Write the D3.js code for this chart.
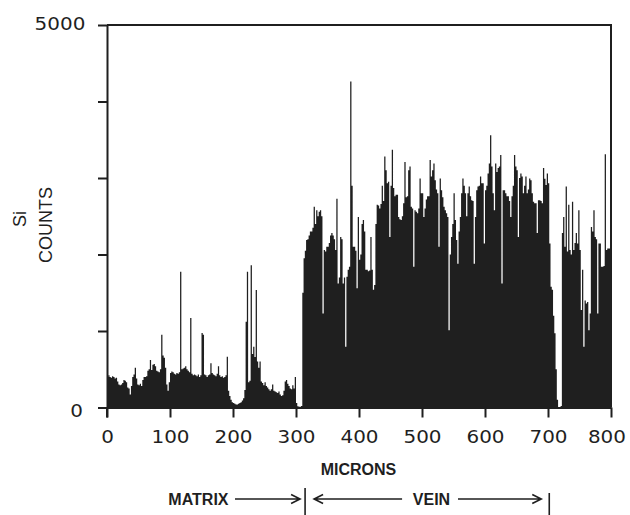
<!DOCTYPE html>
<html><head><meta charset="utf-8">
<script src="https://cdn.jsdelivr.net/npm/d3@7"></script>
<style>body{margin:0;background:#fff}</style>
</head><body>
<svg id="c" width="630" height="515"></svg>
<script>
// Si counts along the scan, one value per 2-micron channel (0..798 microns)
const binWidth = 2;
const counts = [
  400, 420, 400, 390, 410, 400, 380, 390, 340, 300,
  290, 300, 320, 360, 350, 330, 260, 250, 170, 280,
  400, 430, 520, 380, 300, 290, 310, 280, 360, 400,
  400, 410, 480, 500, 620, 490, 560, 570, 540, 480,
  470, 460, 500, 950, 680, 650, 520, 300, 220, 330,
  450, 470, 460, 440, 430, 450, 440, 460, 1775, 500,
  510, 520, 540, 500, 480, 460, 1170, 440, 420, 430,
  420, 410, 430, 400, 420, 975, 950, 430, 420, 400,
  420, 430, 580, 450, 430, 420, 410, 440, 540, 420,
  400, 410, 390, 400, 420, 665, 220, 150, 100, 70,
  60, 50, 40, 40, 50, 60, 70, 90, 120, 230,
  1120, 1775, 330, 350, 1860, 700, 795, 660, 1535, 600,
  520, 600, 340, 320, 290, 330, 280, 260, 240, 220,
  240, 300, 220, 210, 200, 190, 210, 170, 150, 160,
  220, 340, 360, 310, 280, 250, 240, 290, 250, 400,
  60, 15, 10, 10, 20, 1500, 1950, 2050, 2190, 2200,
  2250, 2300, 2300, 2350, 2625, 2400, 2580, 2500, 2560, 2580,
  2500, 1230, 2060, 2040, 2100, 2100, 2150, 2250, 2280, 2250,
  2200, 2060, 2730, 1620, 1700, 2230, 2200, 1620, 1700, 795,
  1710, 1800, 1840, 4260, 2900, 2100, 2100, 2050, 1560, 2490,
  1930, 2000, 2400, 2450, 2300, 1800, 1800, 1780, 1790, 2230,
  1800, 1540, 1600, 2400, 2650, 2640, 2600, 2660, 2900, 2700,
  3280, 3100, 2930, 2950, 2230, 2900, 3370, 2870, 2760, 2780,
  2780, 2490, 2460, 2450, 2500, 2670, 3210, 2750, 2760, 3100,
  3150, 2625, 2600, 1840, 2580, 2560, 2540, 2600, 2995, 2800,
  2800, 2490, 2600, 2720, 2760, 2760, 3235, 3020, 3100, 3190,
  2970, 2850, 2800, 2100, 2995, 2840, 2750, 2625, 2580, 2540,
  2490, 1010, 2000, 2230, 2400, 2800, 2450, 2190, 1880, 2300,
  2490, 2800, 2995, 2900, 2800, 2500, 2800, 2890, 2760, 2710,
  2700, 1880, 2490, 2840, 2890, 2900, 3020, 2930, 2930, 2145,
  2840, 2900, 3060, 3190, 3560, 3150, 2800, 2580, 3190, 3080,
  3130, 3150, 3300, 1620, 2840, 2840, 2800, 2760, 2760, 2700,
  2490, 2760, 2900, 3300, 3150, 3100, 2230, 3000, 3060, 3020,
  2800, 2900, 3020, 2800, 2850, 2995, 2970, 2800, 2690, 2670,
  2670, 2280, 2710, 2710, 2700, 2670, 3130, 2990, 2910, 3060,
  2930, 2145, 1580, 1540, 1200, 970, 500, 100, 0, 0,
  20, 2280, 2490, 2100, 2890, 2040, 2650, 2060, 2000, 2690,
  2060, 2150, 2280, 2145, 2580, 2060, 1275, 1800, 795, 1400,
  1360, 1380, 1010, 1230, 2360, 2300, 2580, 2230, 2200, 1230,
  2145, 2145, 1840, 1840, 1850, 3310, 2060, 2080, 2080, 2080
];
const xTicks = [0, 100, 200, 300, 400, 500, 600, 700, 800];
const yTicks = [0, 1000, 2000, 3000, 4000, 5000];
const yTickLabels = [0, 5000];
const xTitle = "MICRONS";
const yTitle = ["Si", "COUNTS"];
const boundaries = [316, 702];   // matrix | vein | matrix, in microns
const zoneNames = ["MATRIX", "VEIN"];

const ink = "#1f1f1f";
const svg = d3.select("#c");
const x = d3.scaleLinear().domain([0, 800]).range([107, 611]);
const y = d3.scaleLinear().domain([0, 5000]).range([407.5, 25]);

// histogram as stepped filled area
const pts = counts.map((c, i) => ({ m: i * binWidth, c }));
pts.push({ m: 800, c: counts[counts.length - 1] });
const area = d3.area()
  .x(d => x(d.m)).y0(y(0)).y1(d => y(d.c))
  .curve(d3.curveStepAfter);
svg.append("path").datum(pts).attr("d", area).attr("fill", ink);

// frame: top and right
svg.append("path")
  .attr("d", `M${x(0)},${y(5000)}H${x(800)}V${y(0)}`)
  .attr("fill", "none").attr("stroke", ink).attr("stroke-width", 2);

const tickFont = "DejaVu Sans";

// x axis
const gx = svg.append("g").attr("transform", `translate(0,${y(0)})`)
  .call(d3.axisBottom(x).tickValues(xTicks).tickSize(10).tickSizeOuter(0).tickFormat(d3.format("d")));
gx.select(".domain").attr("stroke", ink).attr("stroke-width", 2);
gx.selectAll(".tick line").attr("stroke", ink).attr("stroke-width", 2);
gx.selectAll(".tick text")
  .attr("y", 36).attr("dy", null)
  .attr("x", d => d === 800 ? -4 : 0)
  .attr("transform", "scale(1.14,1)")
  .attr("fill", ink).attr("font-family", tickFont).attr("font-size", 17.5);

// y axis
const gy = svg.append("g").attr("transform", `translate(${x(0)},0)`)
  .call(d3.axisLeft(y).tickValues(yTicks).tickSize(9).tickSizeOuter(0)
    .tickFormat(d => yTickLabels.includes(d) ? String(d) : ""));
gy.select(".domain").attr("stroke", ink).attr("stroke-width", 2);
gy.selectAll(".tick line").attr("stroke", ink).attr("stroke-width", 2);
gy.selectAll(".tick text")
  .attr("x", d => d === 0 ? -21 : -19)
  .attr("dy", null)
  .attr("y", d => d === 0 ? 9.2 : 4.5)
  .attr("transform", "scale(1.14,1)")
  .attr("fill", ink).attr("font-family", tickFont).attr("font-size", 17.5);

// extend left axis down to the x tick length
svg.append("line").attr("x1", x(0)).attr("x2", x(0)).attr("y1", y(0)).attr("y2", y(0) + 10)
  .attr("stroke", ink).attr("stroke-width", 2);

// axis titles
const titleFont = "Liberation Sans, Arial, sans-serif";
svg.append("text").text(xTitle)
  .attr("x", 358.5).attr("y", 475).attr("text-anchor", "middle")
  .attr("font-family", titleFont).attr("font-weight", "bold").attr("font-size", 16).attr("fill", ink);

svg.append("text").text(yTitle[0])
  .attr("transform", "translate(26,219) rotate(-90)").attr("text-anchor", "middle")
  .attr("font-family", titleFont).attr("font-size", 18).attr("fill", ink);
svg.append("text").text(yTitle[1])
  .attr("transform", "translate(51.5,225) rotate(-90)").attr("text-anchor", "middle")
  .attr("font-family", titleFont).attr("font-size", 18).attr("fill", ink);

// zone annotation
const ay = 499;
const b1 = x(boundaries[0]) - 1, b2 = x(boundaries[1]);
const ann = svg.append("g").attr("stroke", ink).attr("stroke-width", 1.6).attr("fill", "none");
boundaries.forEach((b, i) => {
  const bx = i === 0 ? b1 : b2;
  ann.append("line").attr("x1", bx).attr("x2", bx).attr("y1", i === 0 ? 488 : 493).attr("y2", 515);
});
function arrow(x0, x1) {
  const dir = Math.sign(x1 - x0);
  ann.append("path").attr("d",
    `M${x0},${ay}H${x1}M${x1 - dir * 9},${ay - 4.5}L${x1},${ay}L${x1 - dir * 9},${ay + 4.5}`);
}
svg.append("text").text(zoneNames[0])
  .attr("x", 228.5).attr("y", 505).attr("text-anchor", "end")
  .attr("font-family", titleFont).attr("font-weight", "bold").attr("font-size", 16).attr("fill", ink);
arrow(235, b1 - 5);
arrow(b1 + 97, b1 + 9);
svg.append("text").text(zoneNames[1])
  .attr("x", 431.5).attr("y", 505).attr("text-anchor", "middle")
  .attr("font-family", titleFont).attr("font-weight", "bold").attr("font-size", 16).attr("fill", ink);
arrow(458, b2 - 8);
</script>
</body></html>
